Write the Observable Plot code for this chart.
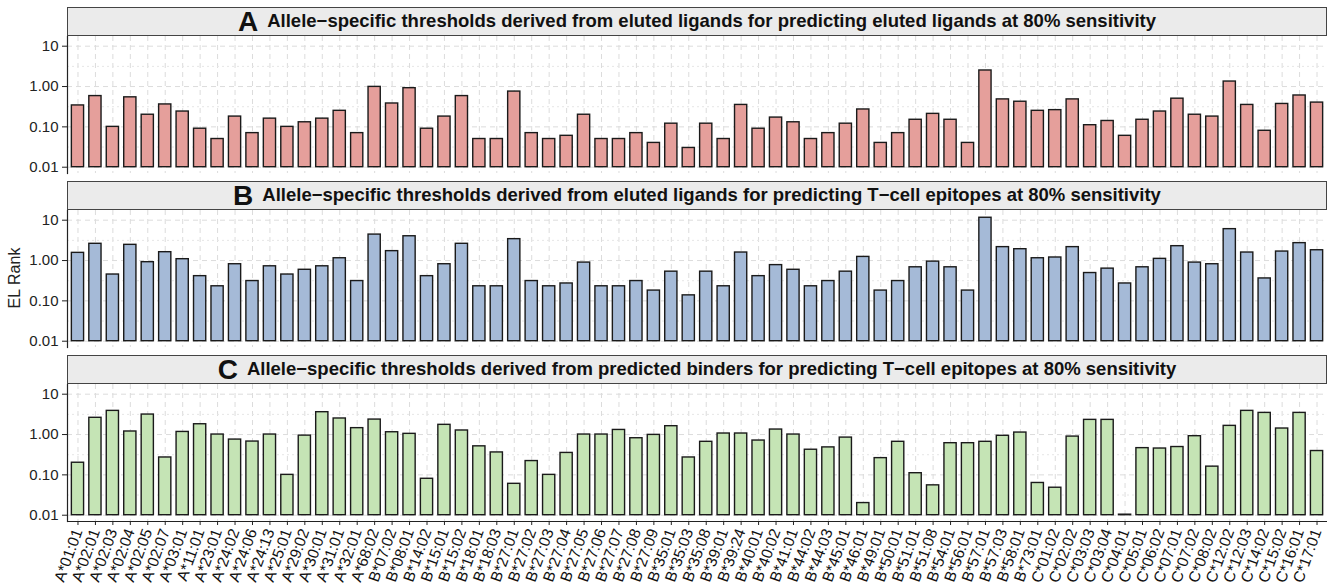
<!DOCTYPE html>
<html><head><meta charset="utf-8">
<script src="https://cdn.jsdelivr.net/npm/d3@7"></script>
<script src="https://cdn.jsdelivr.net/npm/@observablehq/plot@0.6"></script>
<style>
html,body{margin:0;padding:0;background:#fff;}
#wrap{position:relative;width:1334px;height:584px;overflow:hidden;font-family:"Liberation Sans",Arial,Helvetica,sans-serif;}
.strip{position:absolute;left:67px;width:1260px;height:29px;box-sizing:border-box;border:1px solid #444;background:#ebebeb;display:flex;align-items:center;justify-content:center;font-weight:bold;color:#111;white-space:nowrap;}
.strip .letter{font-size:28px;margin-right:9px;line-height:1;}
.strip .txt{font-size:18.5px;line-height:1;}
.panel{position:absolute;left:0;}
.panel svg{overflow:visible;}
#ylab{position:absolute;left:15px;top:278px;transform:translate(-50%,-50%) rotate(-90deg);font-size:16px;color:#222;white-space:nowrap;}
</style></head>
<body><div id="wrap"></div>
<script>
const alleles = ["A*01:01","A*02:01","A*02:03","A*02:04","A*02:05","A*02:07","A*03:01","A*11:01","A*23:01","A*24:02","A*24:06","A*24:13","A*25:01","A*29:02","A*30:01","A*31:01","A*32:01","A*68:02",
"B*07:02","B*08:01","B*14:02","B*15:01","B*15:02","B*18:01","B*18:03","B*27:01","B*27:02","B*27:03","B*27:04","B*27:05","B*27:06","B*27:07","B*27:08","B*27:09","B*35:01","B*35:03","B*35:08","B*39:01","B*39:24","B*40:01","B*40:02","B*41:01","B*44:02","B*44:03","B*45:01","B*46:01","B*49:01","B*50:01","B*51:01","B*51:08","B*54:01","B*56:01","B*57:01","B*57:03","B*58:01","B*73:01",
"C*01:02","C*02:02","C*03:03","C*03:04","C*04:01","C*05:01","C*06:02","C*07:01","C*07:02","C*08:02","C*12:02","C*12:03","C*14:02","C*15:02","C*16:01","C*17:01"];

const elToEl = [0.34,0.58,0.10,0.54,0.20,0.36,0.24,0.09,0.05,0.18,0.07,0.16,0.10,0.13,0.16,0.25,0.07,0.98,
0.38,0.91,0.09,0.18,0.58,0.05,0.05,0.75,0.07,0.05,0.06,0.20,0.05,0.05,0.07,0.04,0.12,0.03,0.12,0.05,0.35,0.09,0.17,0.13,0.05,0.07,0.12,0.27,0.04,0.07,0.15,0.21,0.15,0.04,2.5,0.48,0.42,0.25,
0.26,0.48,0.11,0.14,0.06,0.15,0.24,0.50,0.20,0.18,1.33,0.35,0.08,0.37,0.60,0.40];

const elToTcell = [1.55,2.6,0.45,2.45,0.91,1.61,1.08,0.41,0.23,0.81,0.31,0.72,0.45,0.59,0.72,1.14,0.31,4.4,
1.71,4.0,0.41,0.81,2.6,0.23,0.23,3.39,0.31,0.23,0.27,0.89,0.23,0.23,0.31,0.18,0.53,0.137,0.53,0.23,1.58,0.41,0.77,0.59,0.23,0.31,0.53,1.23,0.18,0.31,0.68,0.94,0.68,0.18,11.5,2.15,1.91,1.14,
1.19,2.15,0.49,0.63,0.27,0.68,1.1,2.27,0.89,0.81,6.0,1.58,0.36,1.67,2.7,1.8];

const pbToTcell = [0.20,2.6,3.86,1.19,3.13,0.27,1.16,1.8,1.0,0.75,0.67,1.0,0.10,0.94,3.58,2.5,1.44,2.35,
1.14,1.04,0.08,1.74,1.26,0.51,0.36,0.06,0.22,0.10,0.35,1.0,1.0,1.3,0.81,0.98,1.61,0.27,0.66,1.06,1.06,0.71,1.33,1.0,0.42,0.48,0.84,0.02,0.26,0.66,0.11,0.055,0.61,0.61,0.66,0.93,1.12,0.063,
0.048,0.89,2.31,2.31,0.0103,0.46,0.45,0.49,0.91,0.16,1.64,3.86,3.44,1.41,3.44,0.39];

const panelLetters = ["A","B","C"];
const panelTitles = [
  "Allele\u2212specific thresholds derived from eluted ligands for predicting eluted ligands at 80% sensitivity",
  "Allele\u2212specific thresholds derived from eluted ligands for predicting T\u2212cell epitopes at 80% sensitivity",
  "Allele\u2212specific thresholds derived from predicted binders for predicting T\u2212cell epitopes at 80% sensitivity"
];
const panelColors = ["#E59F9B","#A5BAD7","#C5E4B5"];
const yTicks = [0.01, 0.1, 1, 10];
const yTickLabels = ["0.01","0.10","1.00","10"];
const yMinor = [Math.pow(10,-1.5), Math.pow(10,-0.5), Math.pow(10,0.5)];
const yLabel = "EL Rank";

const yDomain = [Math.pow(10,-2.156), Math.pow(10,1.2405)];
const font = "Liberation Sans, Arial, Helvetica, sans-serif";
const wrap = document.getElementById("wrap");

function makePanel(values, color, showX) {
  const data = alleles.map((a, i) => ({allele: a, value: values[i]}));
  const mb = showX ? 80 : 0;
  const marks = [
    Plot.gridX({stroke: "#dcdcdc", strokeOpacity: 1, strokeWidth: 1, strokeDasharray: "5,4"}),
    Plot.gridY(yMinor, {stroke: "#e6e6e6", strokeOpacity: 1, strokeWidth: 1, strokeDasharray: "2,3"}),
    Plot.gridY(yTicks, {stroke: "#dcdcdc", strokeOpacity: 1, strokeWidth: 1, strokeDasharray: "5,4"}),
    Plot.barY(data, {x: "allele", y1: 0.01, y2: "value", fill: color, stroke: "#1a1a1a", strokeWidth: 1.4}),
    Plot.axisY(yTicks, {tickFormat: (d) => yTickLabels[yTicks.indexOf(d)], tickSize: 5, tickPadding: 4, fontSize: 15, stroke: "#222", fill: "#222", label: null}),
    Plot.frame({anchor: "left", stroke: "#222", strokeWidth: 1.2})
  ];
  if (showX) {
    marks.push(Plot.ruleY([yDomain[0]], {stroke: "#222", strokeWidth: 1.2}));
    marks.push(Plot.axisX({tickRotate: -70, tickSize: 4, tickPadding: 4, fontSize: 15.5, stroke: "#222", fill: "#111", label: null}));
  }
  return Plot.plot({
    width: 1334,
    height: 137 + mb,
    marginLeft: 67, marginRight: 7, marginTop: 0, marginBottom: mb,
    style: {fontFamily: font, background: "transparent", overflow: "visible"},
    x: {domain: alleles, paddingInner: 0.3, paddingOuter: 0.25, axis: null},
    y: {type: "log", domain: yDomain, axis: null},
    marks
  });
}

const stripTops = [7, 181, 355];
const panelTops = [36, 210, 384];
const series = [elToEl, elToTcell, pbToTcell];
for (let k = 0; k < 3; k++) {
  const s = document.createElement("div");
  s.className = "strip";
  s.style.top = stripTops[k] + "px";
  s.innerHTML = `<span class="letter">${panelLetters[k]}</span><span class="txt">${panelTitles[k]}</span>`;
  wrap.appendChild(s);
  const p = document.createElement("div");
  p.className = "panel";
  p.style.top = panelTops[k] + "px";
  p.appendChild(makePanel(series[k], panelColors[k], k === 2));
  wrap.appendChild(p);
}
const yl = document.createElement("div");
yl.id = "ylab";
yl.textContent = yLabel;
wrap.appendChild(yl);
</script>
</body></html>
